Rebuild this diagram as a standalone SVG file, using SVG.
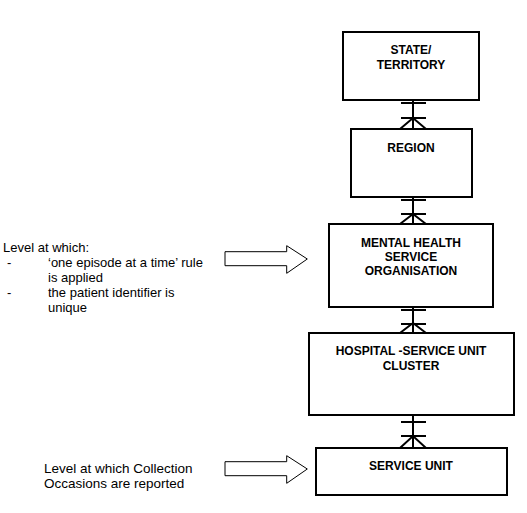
<svg xmlns="http://www.w3.org/2000/svg" width="527" height="513" viewBox="0 0 527 513">
<style>
.box{fill:#fff;stroke:#000;stroke-width:2}
.lbl{font-family:"Liberation Sans",Arial,sans-serif;font-size:12px;font-weight:bold;text-anchor:middle;fill:#000}
.note{font-family:"Liberation Sans",Arial,sans-serif;font-size:13px;fill:#000}
.note2{font-family:"Liberation Sans",Arial,sans-serif;font-size:13.5px;fill:#000}
.conn{fill:none;stroke:#000;stroke-width:2}
.blk{fill:#fff;stroke:#000;stroke-width:1}
</style>
<rect width="527" height="513" fill="#fff"/>
<g id="connectors">
<path class="conn" d="M413 100V129M401 103H426M401 118H426M400 129L413 118L426 129"/>
<path class="conn" d="M413 197V224M401 200H426M401 214H426M400 224L413 214L426 224"/>
<path class="conn" d="M413 307V333M401 310H426M401 324H426M400 333L413 323L426 333"/>
<path class="conn" d="M413 415V448M401 422H426M401 436H426M400 448L413 436L426 448"/>
</g>
<g id="state">
<rect class="box" x="343" y="32" width="136" height="68"/>
<text class="lbl" x="411" y="54">STATE/</text>
<text class="lbl" x="411" y="69">TERRITORY</text>
</g>
<g id="region">
<rect class="box" x="351" y="129" width="121" height="68"/>
<text class="lbl" x="411" y="152">REGION</text>
</g>
<g id="mhso">
<rect class="box" x="329" y="224" width="164" height="83"/>
<text class="lbl" x="411" y="247">MENTAL HEALTH</text>
<text class="lbl" x="411" y="261">SERVICE</text>
<text class="lbl" x="411" y="275">ORGANISATION</text>
</g>
<g id="hospital">
<rect class="box" x="309" y="333" width="205" height="82"/>
<text class="lbl" x="411" y="355">HOSPITAL -SERVICE UNIT</text>
<text class="lbl" x="411" y="370">CLUSTER</text>
</g>
<g id="serviceunit">
<rect class="box" x="316" y="448" width="191" height="47"/>
<text class="lbl" x="411" y="470">SERVICE UNIT</text>
</g>
<g id="note1">
<text class="note" x="3" y="252">Level at which:</text>
<text class="note" x="7" y="267">-</text>
<text class="note" x="48" y="267">‘one episode at a time’ rule</text>
<text class="note" x="48" y="282">is applied</text>
<text class="note" x="7" y="297">-</text>
<text class="note" x="48" y="297">the patient identifier is</text>
<text class="note" x="48" y="312">unique</text>
</g>
<g id="arrow1">
<polygon class="blk" points="225,251.7 286.7,251.7 286.7,245.7 307.3,259 286.7,273.3 286.7,265.7 225,265.7"/>
</g>
<g id="note2">
<text class="note2" x="44" y="473">Level at which Collection</text>
<text class="note2" x="44" y="488">Occasions are reported</text>
</g>
<g id="arrow2">
<polygon class="blk" points="225,461.7 286.7,461.7 286.7,455.7 307.3,469 286.7,483.3 286.7,475.7 225,475.7"/>
</g>
</svg>
